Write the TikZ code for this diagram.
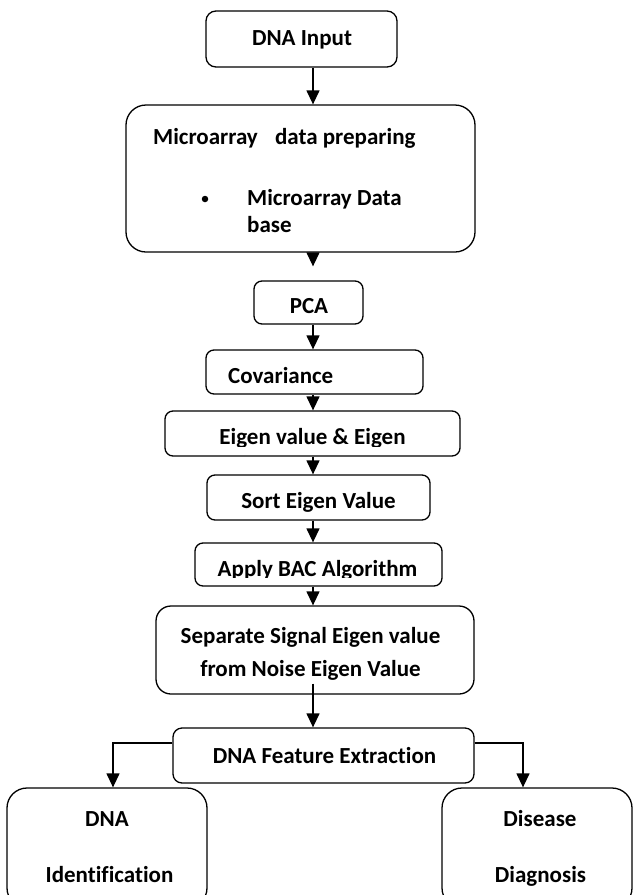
\documentclass[tikz,border=0pt]{standalone}
\usepackage{fontspec}
\setmainfont{Carlito}[Ligatures={NoCommon}]
\usetikzlibrary{arrows.meta}
\tikzset{
  box/.style={draw, line width=1.3pt, inner sep=0pt, fill=white},
  txt/.style={inner sep=0pt, anchor=base, font=\fontsize{23}{27}\selectfont\bfseries},
  txtw/.style={txt, anchor=base west},
  arr/.style={line width=1.3pt, -{Triangle[width=13pt,length=14pt]}},
}
\begin{document}
\begin{tikzpicture}[x=1pt,y=-1pt]
\clip (0,0) rectangle (634,895);
\fill[white] (0,0) rectangle (634,895);
% boxes
\node[box, minimum width=191pt, minimum height=56pt, rounded corners=10pt] (input) at (301.5,39) {};
\node[box, minimum width=349pt, minimum height=147pt, rounded corners=20pt] (micro) at (300.5,178.5) {};
\node[box, minimum width=109pt, minimum height=43pt, rounded corners=8pt] (pca) at (308.5,302.5) {};
\node[box, minimum width=217pt, minimum height=44pt, rounded corners=8pt] (cov) at (314.5,372) {};
\node[box, minimum width=295pt, minimum height=45pt, rounded corners=8pt] (eig) at (312.5,433.5) {};
\node[box, minimum width=223pt, minimum height=45pt, rounded corners=8pt] (sort) at (318.5,497.5) {};
\node[box, minimum width=247pt, minimum height=43pt, rounded corners=8pt] (apply) at (318.5,564.5) {};
\node[box, minimum width=318pt, minimum height=88pt, rounded corners=15pt] (sep) at (315,650) {};
\node[box, minimum width=301pt, minimum height=55pt, rounded corners=9pt] (feat) at (323.5,755.5) {};
\node[box, minimum width=200pt, minimum height=120pt, rounded corners=20pt] (ident) at (107,848) {};
\node[box, minimum width=190pt, minimum height=120pt, rounded corners=20pt] (dis) at (537,848) {};
% texts
\node[txt] (tinput) at (302,45) {DNA Input};
\node[txtw] (tmicro) at (153,144) {Microarray\hspace*{12pt} data preparing};
\node[circle, fill, inner sep=0pt, minimum size=6.5pt] (bul) at (205,199) {};
\node[txtw] (tmicro2) at (247,205) {Microarray Data};
\node[txtw] (tmicro3) at (247,232) {base};
\node[txt] (tpca) at (309,313) {PCA};
\node[txtw] (tcov) at (228,383) {Covariance};
\begin{scope}
\clip (165,411) rectangle (460,446);
\node[txt] (teig) at (312.5,444) {Eigen value \& Eigen};
\end{scope}
\node[txt] (tsort) at (318.5,508) {Sort Eigen Value};
\begin{scope}
\clip (195,543) rectangle (442,577.5);
\node[txt] (tapply) at (317.5,576) {Apply BAC Algorithm};
\end{scope}
\node[txt] (tsep1) at (310.5,643) {Separate Signal Eigen value};
\node[txt] (tsep2) at (310.5,676) {from Noise Eigen Value};
\node[txt] (tfeat) at (324.5,763) {DNA Feature Extraction};
\node[txt] (tident1) at (107,826) {DNA};
\node[txt] (tident2) at (109.5,882) {Identification};
\node[txt] (tdis1) at (540,826) {Disease};
\node[txt] (tdis2) at (540.5,882) {Diagnosis};
% connectors
\draw[arr] (input.south -| 313,0) -- (micro.north -| 313,0);
\draw[arr, shorten >=14pt] (micro.south -| 313,0) -- (pca.north -| 313,0);
\draw[arr] (pca.south -| 313,0) -- (cov.north -| 313,0);
\draw[arr] (cov.south -| 313,0) -- (eig.north -| 313,0);
\draw[arr] (eig.south -| 313,0) -- (sort.north -| 313,0);
\draw[arr] (sort.south -| 313,0) -- (apply.north -| 313,0);
\draw[arr] (apply.south -| 313,0) -- (sep.north -| 313,0);
\draw[arr] ([yshift=11pt]sep.south -| 313,0) -- (feat.north -| 313,0);
\draw[arr] (feat.west |- 0,743) -| (ident.north -| 113,0);
\draw[arr] (feat.east |- 0,743) -| (dis.north -| 523,0);
\end{tikzpicture}
\end{document}
